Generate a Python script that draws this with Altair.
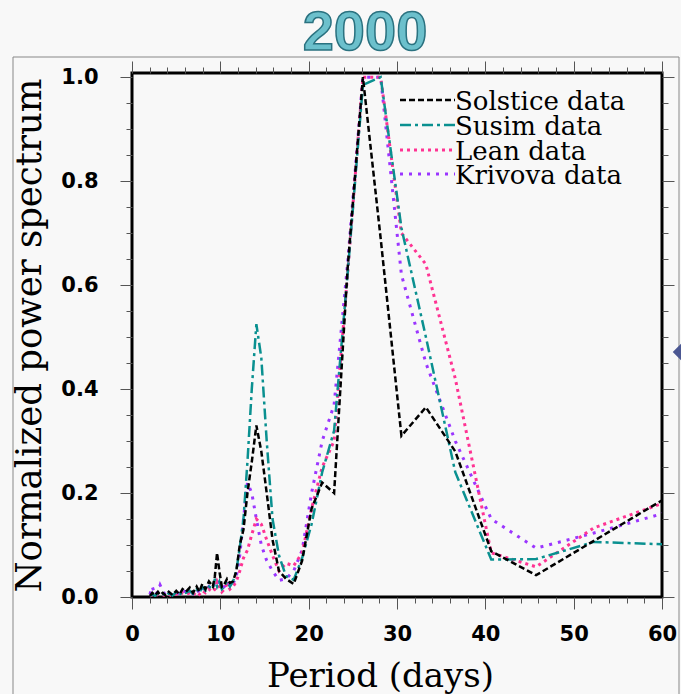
import altair as alt
import pandas as pd

# ---------------- data ----------------
period = [61.0, 52.29, 45.75, 40.67, 36.6, 33.27, 30.5, 28.15, 26.14, 24.4,
          22.88, 21.53, 20.33, 19.26, 18.3, 17.43, 16.64, 15.91, 15.25, 14.64,
          14.08, 13.56, 13.07, 12.62, 12.2, 11.81, 11.44, 11.09, 10.76, 10.46,
          10.17, 9.89, 9.63, 9.38, 9.15, 8.71, 8.32, 7.96, 7.63, 7.32,
          6.91, 6.54, 6.1, 5.72, 5.38, 5.01, 4.58, 4.16, 3.81, 3.49,
          3.18, 2.93, 2.61, 2.29, 2.03]

solstice = [0.196, 0.108, 0.042, 0.088, 0.28, 0.365, 0.31, 0.69, 1.0, 0.63,
            0.2, 0.22, 0.17, 0.07, 0.025, 0.035, 0.05, 0.11, 0.2, 0.28,
            0.33, 0.26, 0.2, 0.13, 0.1, 0.05, 0.03, 0.027, 0.035, 0.025,
            0.02, 0.05, 0.085, 0.04, 0.02, 0.03, 0.015, 0.025, 0.01, 0.02,
            0.008, 0.018, 0.01, 0.015, 0.005, 0.012, 0.004, 0.01, 0.003, 0.008,
            0.004, 0.01, 0.003, 0.008, 0.002]

susim = [0.101, 0.106, 0.073, 0.072, 0.24, 0.5, 0.71, 1.0, 0.985, 0.62,
         0.32, 0.24, 0.14, 0.075, 0.033, 0.04, 0.08, 0.15, 0.3, 0.46,
         0.525, 0.4, 0.26, 0.15, 0.095, 0.05, 0.03, 0.02, 0.03, 0.02,
         0.015, 0.03, 0.02, 0.035, 0.015, 0.02, 0.012, 0.02, 0.008, 0.015,
         0.006, 0.012, 0.008, 0.01, 0.004, 0.009, 0.003, 0.007, 0.002, 0.006,
         0.003, 0.007, 0.002, 0.005, 0.002]

lean = [0.186, 0.133, 0.058, 0.085, 0.42, 0.64, 0.70, 1.0, 1.0, 0.62,
        0.3, 0.25, 0.17, 0.085, 0.06, 0.065, 0.05, 0.08, 0.11, 0.14,
        0.15, 0.12, 0.09, 0.075, 0.05, 0.03, 0.02, 0.015, 0.025, 0.015,
        0.01, 0.02, 0.03, 0.015, 0.01, 0.015, 0.008, 0.012, 0.005, 0.01,
        0.004, 0.008, 0.005, 0.008, 0.003, 0.006, 0.002, 0.005, 0.002, 0.004,
        0.002, 0.005, 0.002, 0.004, 0.001]

krivova = [0.165, 0.123, 0.094, 0.15, 0.3, 0.45, 0.62, 1.0, 1.0, 0.64,
           0.37, 0.3, 0.2, 0.09, 0.05, 0.035, 0.032, 0.05, 0.07, 0.1,
           0.15, 0.2, 0.22, 0.15, 0.08, 0.04, 0.025, 0.02, 0.03, 0.02,
           0.015, 0.035, 0.025, 0.03, 0.015, 0.02, 0.012, 0.018, 0.008, 0.015,
           0.006, 0.012, 0.01, 0.012, 0.005, 0.01, 0.004, 0.008, 0.003, 0.012,
           0.023, 0.01, 0.004, 0.02, 0.005]

series_names = ["Solstice data", "Susim data", "Lean data", "Krivova data"]
series_values = [solstice, susim, lean, krivova]
series_colors = ["#000000", "#0a9090", "#ff3393", "#9b35ff"]
series_dash = [[6, 3], [11, 4, 3, 4], [3, 4], [3, 6]]
series_width = [2.5, 2.5, 3, 3]

x_ticks = list(range(0, 61, 2))
y_ticks = [round(i * 0.05, 2) for i in range(21)]

rows = []
for name, vals in zip(series_names, series_values):
    for p, v in zip(period, vals):
        rows.append({"series": name, "period": p, "power": v})
df = pd.DataFrame(rows)

W, H = 530, 524
XDOM = [0, 60]
YDOM = [0, 1.008]

xs = alt.Scale(domain=XDOM, nice=False, zero=False)
ys = alt.Scale(domain=YDOM, nice=False)

tick_x = {"condition": {"test": "datum.value % 10 === 0", "value": 12}, "value": 6}
tick_y = {"condition": {"test": "round(datum.value*100) % 20 === 0", "value": 12}, "value": 6}

x_axis = alt.Axis(values=x_ticks, orient="bottom", labelFlush=False,
                  labelExpr="datum.value % 10 === 0 ? datum.label : ''",
                  tickSize=tick_x, labelPadding=14,
                  title="Period (days)", titleX=248, titleY=89,
                  titleBaseline="alphabetic", titleAlign="center")
y_axis = alt.Axis(values=y_ticks, orient="left", labelFlush=False,
                  labelExpr="round(datum.value*100) % 20 === 0 ? format(datum.value, '.1f') : ''",
                  tickSize=tick_y, labelPadding=22,
                  title="Normalized power spectrum", titleAngle=270,
                  titleFontSize=35.5,
                  titleX=-92, titleY=262, titleBaseline="alphabetic", titleAlign="center")
x_axis_top = alt.Axis(values=x_ticks, orient="top", labels=False, title=None, tickSize=tick_x)
y_axis_right = alt.Axis(values=y_ticks, orient="right", labels=False, title=None, tickSize=tick_y)

base = alt.Chart(df)

layers = []
# draw order: Krivova, Lean, Susim, Solstice (Solstice on top)
for idx in [3, 2, 1, 0]:
    name = series_names[idx]
    first = (idx == 3)
    layers.append(
        base.transform_filter(alt.datum.series == name)
        .mark_line(color=series_colors[idx], strokeDash=series_dash[idx],
                   strokeWidth=series_width[idx], clip=True, strokeCap="butt")
        .encode(
            x=alt.X("period:Q", scale=xs, axis=x_axis if first else None),
            y=alt.Y("power:Q", scale=ys, axis=y_axis if first else None),
            order=alt.Order("period:Q"),
        )
    )

# extra axes on top and right (ticks only)
layers.append(
    base.transform_filter(alt.datum.series == series_names[0])
    .mark_line(opacity=0)
    .encode(x=alt.X("period:Q", scale=xs, axis=x_axis_top),
            y=alt.Y("power:Q", scale=ys, axis=y_axis_right))
)

# legend (inside, top-right)
leg_y = [27, 52, 77, 101]
for i, name in enumerate(series_names):
    layers.append(
        alt.Chart(pd.DataFrame({"t": [name]}))
        .mark_rule(color=series_colors[i], strokeDash=series_dash[i],
                   strokeWidth=series_width[i], strokeCap="butt")
        .encode(x=alt.value(268), x2=alt.value(323), y=alt.value(leg_y[i]))
    )
    layers.append(
        alt.Chart(pd.DataFrame({"t": [name]}))
        .mark_text(align="left", baseline="middle", font="DejaVu Serif",
                   fontSize=26, color="black")
        .encode(text="t:N", x=alt.value(323), y=alt.value(leg_y[i] + 2))
    )

# title "2000"
layers.append(
    alt.Chart(pd.DataFrame({"t": ["2000"]}))
    .mark_text(align="center", baseline="middle", font="Liberation Sans",
               fontWeight="bold", fontSize=56, fill="#6cc0cc",
               stroke="#2b7280", strokeWidth=1.5)
    .encode(text="t:N", x=alt.value(233), y=alt.value(-40))
)

# slide frame decorations
frame = pd.DataFrame({"t": [0]})
layers.append(alt.Chart(frame).mark_rule(color="#888888", strokeWidth=1)
              .encode(x=alt.value(-119), x2=alt.value(547), y=alt.value(-16)))
layers.append(alt.Chart(frame).mark_rule(color="#888888", strokeWidth=1)
              .encode(x=alt.value(-119), y=alt.value(-16), y2=alt.value(621)))
layers.append(alt.Chart(frame).mark_rule(color="#888888", strokeWidth=1)
              .encode(x=alt.value(547), y=alt.value(-16), y2=alt.value(621)))
layers.append(alt.Chart(frame).mark_point(shape="diamond", filled=True, color="#4b5792",
                                          size=420, opacity=1)
              .encode(x=alt.value(551), y=alt.value(279)))

chart = (
    alt.layer(*layers)
    .resolve_axis(x="independent", y="independent")
    .properties(width=W, height=H,
                autosize=alt.AutoSizeParams(type="none"),
                padding={"left": 132, "top": 73, "right": 19, "bottom": 97},
                background="#f8f8f8")
    .configure_view(stroke="black", strokeWidth=3)
    .configure_axis(domain=False, grid=False, tickColor="#555555", tickWidth=1,
                    labelFont="DejaVu Sans", labelFontWeight="bold", labelFontSize=21,
                    labelColor="black", titleFont="DejaVu Serif", titleFontSize=34,
                    titleFontWeight="normal", titleColor="black")
)

chart.save("out.html", embed_options={"renderer": "svg", "actions": False})
